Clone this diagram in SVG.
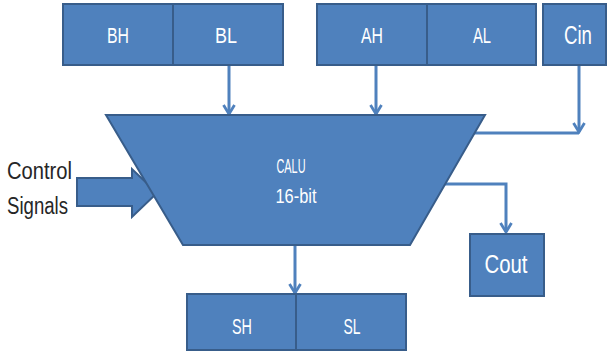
<svg xmlns="http://www.w3.org/2000/svg" width="612" height="356" viewBox="0 0 612 356">
<style>
.box{fill:#4F81BD;stroke:#385D8A;stroke-width:2}
.lbl{font-family:"Liberation Sans Narrow","Liberation Sans",Arial,sans-serif;fill:#FFFFFF;text-anchor:middle}
.dark{font-family:"Liberation Sans Narrow","Liberation Sans",Arial,sans-serif;fill:#262626}
.conn{fill:none;stroke:#4F81BD;stroke-width:3}
</style>
<defs>
<marker id="arr" viewBox="0 0 14 14" refX="12" refY="7" markerWidth="14" markerHeight="14" markerUnits="userSpaceOnUse" orient="auto">
<path d="M3,1.5 L12,7 L3,12.5" fill="none" stroke="#4F81BD" stroke-width="2.8"/>
</marker>
</defs>
<rect width="612" height="356" fill="#FFFFFF"/>
<g id="ctrl-arrow">
<polygon class="box" points="77,178 132,178 132,169 157,193 132,217 132,206 77,206"/>
</g>
<g id="control-label">
<text class="dark" x="7" y="179" font-size="23" textLength="65" lengthAdjust="spacingAndGlyphs">Control</text>
<text class="dark" x="7" y="214" font-size="23" textLength="61" lengthAdjust="spacingAndGlyphs">Signals</text>
</g>
<g id="B">
<rect class="box" x="63" y="4" width="110" height="61"/>
<rect class="box" x="173" y="4" width="110" height="61"/>
<text class="lbl" x="118" y="43" font-size="22" textLength="22" lengthAdjust="spacingAndGlyphs">BH</text>
<text class="lbl" x="226" y="43" font-size="22" textLength="22" lengthAdjust="spacingAndGlyphs">BL</text>
</g>
<g id="A">
<rect class="box" x="317" y="4" width="110" height="61"/>
<rect class="box" x="427" y="4" width="109" height="61"/>
<text class="lbl" x="372" y="43" font-size="22" textLength="22" lengthAdjust="spacingAndGlyphs">AH</text>
<text class="lbl" x="482" y="43" font-size="22" textLength="18" lengthAdjust="spacingAndGlyphs">AL</text>
</g>
<g id="Cin">
<rect class="box" x="543" y="4" width="63" height="61"/>
<text class="lbl" x="578" y="44" font-size="25" textLength="28" lengthAdjust="spacingAndGlyphs">Cin</text>
</g>
<g id="connectors">
<path class="conn" d="M229,66 V114" marker-end="url(#arr)"/>
<path class="conn" d="M376,66 V114" marker-end="url(#arr)"/>
<path class="conn" d="M579,66 V132" marker-end="url(#arr)"/>
<path class="conn" d="M474,133 H579"/>
<path class="conn" d="M444,184 H506 V232" marker-end="url(#arr)"/>
<path class="conn" d="M295,246 V293" marker-end="url(#arr)"/>
</g>
<g id="CALU">
<polygon class="box" points="106,115 485,115 410,245 183,245"/>
<text class="lbl" x="291" y="173" font-size="20" textLength="29" lengthAdjust="spacingAndGlyphs">CALU</text>
<text class="lbl" x="296" y="203" font-size="20" textLength="41" lengthAdjust="spacingAndGlyphs">16-bit</text>
</g>
<g id="Cout">
<rect class="box" x="470" y="234" width="74" height="62"/>
<text class="lbl" x="506" y="273" font-size="25" textLength="43" lengthAdjust="spacingAndGlyphs">Cout</text>
</g>
<g id="S">
<rect class="box" x="187" y="294" width="109" height="56"/>
<rect class="box" x="296" y="294" width="110" height="56"/>
<text class="lbl" x="242" y="334" font-size="22" textLength="20" lengthAdjust="spacingAndGlyphs">SH</text>
<text class="lbl" x="352" y="334" font-size="22" textLength="17" lengthAdjust="spacingAndGlyphs">SL</text>
</g>
</svg>
